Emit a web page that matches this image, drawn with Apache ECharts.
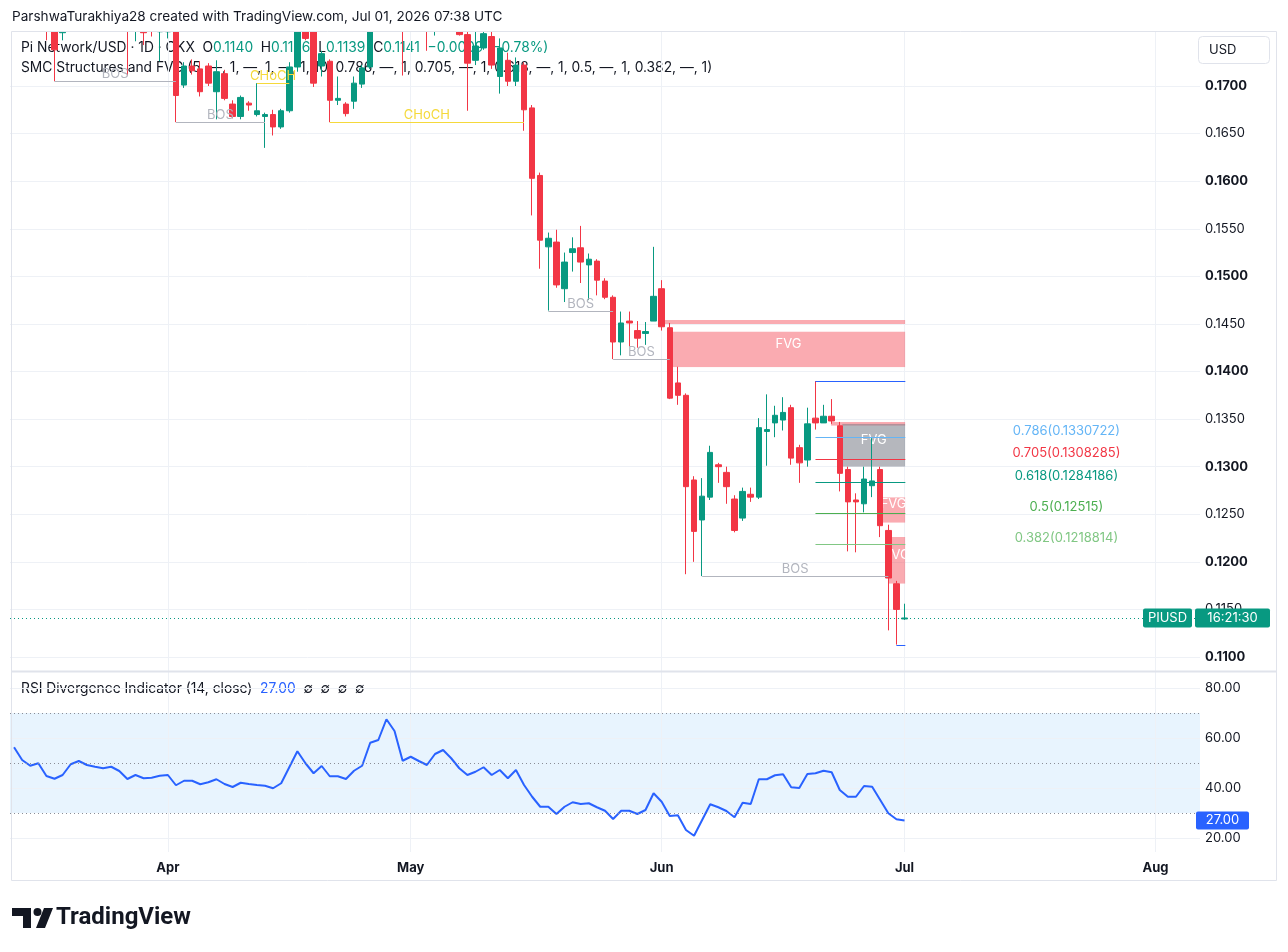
<!DOCTYPE html>
<html>
<head>
<meta charset="utf-8">
<title>Pi Network/USD 1D</title>
<script src="https://cdn.jsdelivr.net/npm/echarts@6.0.0/dist/echarts.min.js"></script>
<style>
  html, body { margin: 0; padding: 0; background: #ffffff; }
  #main { width: 1288px; height: 952px; }
</style>
</head>
<body>
<div id="main"></div>
<script>
// daily categories, Mar 13 -> Aug 6 2026 (chart runs past the last bar)
var dates = [];
(function () {
  var d = new Date(Date.UTC(2026, 2, 13));
  for (var k = 0; k < 147; k++) {
    dates.push(d.toISOString().slice(0, 10));
    d.setUTCDate(d.getUTCDate() + 1);
  }
})();

var monthStarts = ['2026-04-01', '2026-05-01', '2026-06-01', '2026-07-01', '2026-08-01'];
var monthNames = ['Apr', 'May', 'Jun', 'Jul', 'Aug'];

var priceTicks = [0.11, 0.115, 0.12, 0.125, 0.13, 0.135, 0.14, 0.145, 0.15, 0.155, 0.16, 0.165, 0.17];
var rsiTicks = [20, 40, 60, 80];
var rsiBands = [30, 50, 70];

// OHLC, Mar 13 -> Jul 1
var opens = [
  0.1855, 0.1840, 0.1815, 0.1800, 0.1805, 0.1768, 0.1756, 0.1766, 0.1800, 0.1810,
  0.1800, 0.1795, 0.1790, 0.1795, 0.1785, 0.1765, 0.1775, 0.1768, 0.1757, 0.1757,
  0.1772, 0.1701, 0.1721, 0.1718, 0.1721, 0.1694, 0.1713, 0.1681, 0.1668, 0.1682,
  0.1670, 0.1668, 0.1670, 0.1657, 0.1674, 0.1720, 0.1765, 0.1762, 0.1721, 0.1726,
  0.1685, 0.1681, 0.1684, 0.1702, 0.1720, 0.1772, 0.1795, 0.1840, 0.1815, 0.1762,
  0.1772, 0.1765, 0.1760, 0.1785, 0.1795, 0.1780, 0.1754, 0.1727, 0.1740, 0.1752,
  0.1710, 0.1727, 0.1705, 0.1722, 0.1677, 0.1606, 0.1531, 0.1536, 0.1487, 0.1525,
  0.1530, 0.1512, 0.1516, 0.1495, 0.1478, 0.1431, 0.1453, 0.1443, 0.1440, 0.1453,
  0.1487, 0.1446, 0.1388, 0.1375, 0.1286, 0.1244, 0.1268, 0.1302, 0.1294, 0.1266,
  0.1246, 0.1271, 0.1268, 0.1337, 0.1346, 0.1349, 0.1362, 0.1320, 0.1307, 0.1351,
  0.1346, 0.1353, 0.1343, 0.1297, 0.1265, 0.1261, 0.1280, 0.1297, 0.1233, 0.1177,
  0.1140
];
var highs = [
  0.1870, 0.1848, 0.1825, 0.1818, 0.1810, 0.1775, 0.1775, 0.1810, 0.1825, 0.1818,
  0.1812, 0.1805, 0.1808, 0.1800, 0.1792, 0.1788, 0.1782, 0.1775, 0.1778, 0.1780,
  0.1778, 0.1725, 0.1728, 0.1726, 0.1724, 0.1727, 0.1717, 0.1685, 0.1690, 0.1684,
  0.1703, 0.1672, 0.1675, 0.1676, 0.1725, 0.1775, 0.1775, 0.1768, 0.1737, 0.1728,
  0.1710, 0.1683, 0.1710, 0.1722, 0.1780, 0.1805, 0.1850, 0.1848, 0.1820, 0.1785,
  0.1780, 0.1778, 0.1790, 0.1805, 0.1800, 0.1788, 0.1760, 0.1758, 0.1762, 0.1758,
  0.1750, 0.1735, 0.1730, 0.1725, 0.1680, 0.1609, 0.1546, 0.1549, 0.1525, 0.1541,
  0.1553, 0.1524, 0.1518, 0.1498, 0.1480, 0.1463, 0.1463, 0.1453, 0.1452, 0.1531,
  0.1496, 0.1451, 0.1405, 0.1377, 0.1290, 0.1288, 0.1322, 0.1304, 0.1300, 0.1270,
  0.1278, 0.1278, 0.1351, 0.1376, 0.1364, 0.1373, 0.1365, 0.1323, 0.1362, 0.1390,
  0.1365, 0.1371, 0.1347, 0.1300, 0.1272, 0.1300, 0.1330, 0.1300, 0.1239, 0.1180,
  0.1156
];
var lows = [
  0.1830, 0.1808, 0.1792, 0.1790, 0.1748, 0.1705, 0.1748, 0.1760, 0.1790, 0.1788,
  0.1785, 0.1780, 0.1782, 0.1772, 0.1711, 0.1747, 0.1743, 0.1752, 0.1726, 0.1750,
  0.1662, 0.1698, 0.1712, 0.1689, 0.1700, 0.1665, 0.1685, 0.1666, 0.1665, 0.1674,
  0.1668, 0.1635, 0.1648, 0.1655, 0.1672, 0.1715, 0.1748, 0.1699, 0.1710, 0.1662,
  0.1680, 0.1668, 0.1676, 0.1698, 0.1718, 0.1765, 0.1790, 0.1805, 0.1711, 0.1758,
  0.1760, 0.1737, 0.1753, 0.1775, 0.1772, 0.1753, 0.1674, 0.1722, 0.1738, 0.1718,
  0.1692, 0.1700, 0.1700, 0.1653, 0.1564, 0.1508, 0.1464, 0.1488, 0.1473, 0.1505,
  0.1493, 0.1475, 0.1480, 0.1476, 0.1413, 0.1417, 0.1426, 0.1425, 0.1428, 0.1453,
  0.1443, 0.1371, 0.1365, 0.1187, 0.1200, 0.1185, 0.1265, 0.1283, 0.1261, 0.1231,
  0.1243, 0.1263, 0.1266, 0.1301, 0.1331, 0.1338, 0.1302, 0.1283, 0.1300, 0.1339,
  0.1346, 0.1345, 0.1274, 0.1211, 0.1210, 0.1252, 0.1268, 0.1226, 0.1128, 0.1113,
  0.1139
];
var closes = [
  0.1840, 0.1815, 0.1800, 0.1805, 0.1768, 0.1738, 0.1766, 0.1800, 0.1810, 0.1800,
  0.1795, 0.1790, 0.1795, 0.1785, 0.1765, 0.1775, 0.1756, 0.1760, 0.1768, 0.1772,
  0.1690, 0.1721, 0.1716, 0.1694, 0.1703, 0.1715, 0.1687, 0.1668, 0.1688, 0.1680,
  0.1674, 0.1670, 0.1657, 0.1674, 0.1720, 0.1765, 0.1750, 0.1703, 0.1734, 0.1685,
  0.1687, 0.1671, 0.1703, 0.1719, 0.1772, 0.1795, 0.1840, 0.1815, 0.1762, 0.1772,
  0.1765, 0.1760, 0.1785, 0.1795, 0.1780, 0.1754, 0.1724, 0.1742, 0.1755, 0.1722,
  0.1740, 0.1705, 0.1722, 0.1675, 0.1603, 0.1538, 0.1540, 0.1491, 0.1515, 0.1529,
  0.1515, 0.1518, 0.1496, 0.1478, 0.1431, 0.1451, 0.1451, 0.1435, 0.1442, 0.1479,
  0.1447, 0.1372, 0.1375, 0.1279, 0.1232, 0.1269, 0.1315, 0.1300, 0.1279, 0.1233,
  0.1274, 0.1268, 0.1341, 0.1339, 0.1354, 0.1357, 0.1309, 0.1304, 0.1345, 0.1346,
  0.1353, 0.1348, 0.1293, 0.1263, 0.1263, 0.1287, 0.1285, 0.1238, 0.1183, 0.1150,
  0.1141
];

// RSI (14, close), Mar 13 -> Jul 1
var rsi = [
  56.3, 51.2, 48.9, 49.9, 44.8, 43.7, 45.2, 49.5, 50.8, 49.2,
  48.5, 47.9, 48.5, 46.8, 43.6, 45.2, 43.9, 44.1, 44.9, 45.2,
  41.1, 42.9, 42.9, 41.5, 42.3, 43.5, 41.6, 40.4, 42.1, 41.6,
  41.2, 40.9, 39.9, 41.9, 48.3, 54.7, 49.9, 45.9, 48.8, 44.7,
  44.7, 43.6, 46.9, 48.9, 58.1, 59.2, 67.5, 62.8, 50.9, 52.5,
  50.8, 49.2, 53.6, 55.2, 51.9, 47.9, 45.2, 46.5, 48.3, 45.2,
  47.2, 43.9, 47.2, 41.2, 36.5, 32.5, 32.5, 29.6, 32.5, 34.3,
  33.6, 33.9, 32.3, 30.9, 27.6, 30.9, 30.9, 29.6, 31.2, 37.9,
  34.5, 28.8, 29.1, 23.2, 20.9, 27.2, 33.5, 32.3, 30.8, 28.3,
  34.1, 33.6, 43.5, 43.5, 45.1, 45.5, 40.3, 40.0, 45.6, 45.9,
  46.9, 46.3, 39.2, 36.5, 36.5, 40.8, 40.5, 35.2, 29.9, 27.5,
  27.0
];

// SMC structure breaks (bar index from / to, level)
var structFrom = [5, 20, 30, 39, 66, 74, 85];
var structTo = [20, 31, 34, 63, 74, 81, 108];
var structPrice = [0.1705, 0.1662, 0.1703, 0.1662, 0.1464, 0.1413, 0.1185];
var structText = ['BOS', 'BOS', 'CHoCH', 'CHoCH', 'BOS', 'BOS', 'BOS'];

// fair value gaps (bar index from / to, top, bottom)
var fvgFrom = [80.2, 81.25, 100.9, 102.3, 107.2, 108];
var fvgTo = [110.1, 110.1, 110.1, 110.1, 110.1, 110.1];
var fvgTop = [0.1454, 0.1442, 0.1347, 0.1345, 0.1268, 0.1226];
var fvgBottom = [0.1450, 0.14046, 0.1343, 0.1300, 0.1241, 0.1177];
var fvgMitigated = [false, false, false, true, false, false];
var fvgLabel = ['', 'FVG', '', 'FVG', 'FVG', 'FVG'];

// fibonacci levels of the last swing
var fibLevel = ['1', '0.786', '0.705', '0.618', '0.5', '0.382', '0'];
var fibPrices = [0.1390, 0.1330722, 0.1308285, 0.1284186, 0.12515, 0.1218814, 0.1113];
var fibFrom = [99, 99, 99, 99, 99, 99, 109];
var fibTo = 110.1;
var fibShowLabel = [false, true, true, true, true, true, false];
var fibLabelAt = 130;

var symbolTag = 'PIUSD';
var countdown = '16:21:30';

var UP = '#089981', DOWN = '#f23645';
var FONT = 'Inter, "Noto Sans", sans-serif';
var TXT = '#131722';
var GRID = '#eef1f6';
var BOS_COLOR = '#b2b5be', CHOCH_COLOR = '#f5d93b';
var fibColors = ['#2962ff', '#64b5f6', '#f23645', '#089981', '#4caf50', '#81c784', '#2962ff'];

var candleData = opens.map(function (o, i) {
  return [o, closes[i], lows[i], highs[i]];
});
var lastClose = closes[closes.length - 1];
var lastRsi = rsi[rsi.length - 1];

function xAt(api, v) {
  var i = Math.floor(v);
  var a = api.coord([i, 0])[0];
  var b = api.coord([i + 1, 0])[0];
  return a + (v - i) * (b - a);
}
function crisp(y) { return Math.round(y) + 0.5; }

var chart = echarts.init(document.getElementById('main'));

var gridLineStyle = { color: GRID, width: 1, type: 'solid' };

var option = {
  animation: false,
  backgroundColor: '#ffffff',
  textStyle: { fontFamily: FONT },
  grid: [
    { left: 10, right: 88, top: 31, height: 640 },
    { left: 10, right: 88, top: 672, height: 180 }
  ],
  xAxis: [
    {
      type: 'category', gridIndex: 0, data: dates, boundaryGap: true,
      axisLine: { show: false }, axisTick: { show: false },
      axisLabel: { show: false }, splitLine: { show: false }
    },
    {
      type: 'category', gridIndex: 1, data: dates, boundaryGap: true,
      axisLine: { show: false }, axisTick: { show: false }, splitLine: { show: false },
      axisLabel: {
        interval: function (idx, val) { return monthStarts.indexOf(val) >= 0; },
        formatter: function (val) { return monthNames[monthStarts.indexOf(val)]; },
        color: TXT, fontSize: 13, fontWeight: 'bold', fontFamily: FONT, margin: 10
      }
    }
  ],
  yAxis: [
    {
      type: 'value', gridIndex: 0, position: 'right', min: 0.10853, max: 0.17578,
      axisLine: { show: false }, axisTick: { show: false }, splitLine: { show: false },
      axisLabel: {
        customValues: priceTicks,
        color: TXT, fontSize: 13, fontFamily: FONT, margin: 5,
        formatter: function (v) {
          var s = v.toFixed(4);
          return s.slice(-2) === '00' ? '{b|' + s + '}' : s;
        },
        rich: { b: { fontWeight: 'bold', fontSize: 13, color: TXT, fontFamily: FONT } }
      }
    },
    {
      type: 'value', gridIndex: 1, position: 'right', min: 14.4, max: 86.4,
      axisLine: { show: false }, axisTick: { show: false }, splitLine: { show: false },
      axisLabel: {
        customValues: rsiTicks,
        color: TXT, fontSize: 13, fontFamily: FONT, margin: 5,
        formatter: function (v) { return v.toFixed(2); }
      }
    }
  ],
  series: [
    {
      // grid lines of the price pane
      type: 'line', xAxisIndex: 0, yAxisIndex: 0, data: [], silent: true,
      markLine: {
        silent: true, z: 1, precision: 6, symbol: ['none', 'none'], label: { show: false },
        lineStyle: gridLineStyle,
        data: priceTicks.map(function (v) { return { yAxis: v }; })
          .concat(monthStarts.map(function (d) { return { xAxis: d }; }))
      }
    },
    {
      // grid lines of the RSI pane
      type: 'line', xAxisIndex: 1, yAxisIndex: 1, data: [], silent: true,
      markLine: {
        silent: true, z: 1, precision: 6, symbol: ['none', 'none'], label: { show: false },
        lineStyle: gridLineStyle,
        data: rsiTicks.map(function (v) { return { yAxis: v }; })
          .concat(monthStarts.map(function (d) { return { xAxis: d }; }))
      }
    },
    {
      // last price line
      type: 'line', xAxisIndex: 0, yAxisIndex: 0, data: [], silent: true, z: 5,
      markLine: {
        silent: true, z: 5, precision: 6, symbol: ['none', 'none'], label: { show: false },
        lineStyle: { color: UP, width: 1, type: [1, 3] },
        data: [{ yAxis: lastClose }]
      }
    },
    {
      // FVG boxes
      type: 'custom', xAxisIndex: 0, yAxisIndex: 0, z: 2, silent: true,
      data: fvgTop.map(function (t, k) { return [Math.floor(fvgFrom[k]), t]; }),
      renderItem: function (params, api) {
        var k = params.dataIndex;
        var x0 = xAt(api, fvgFrom[k]), x1 = xAt(api, fvgTo[k]);
        var y0 = api.coord([0, fvgTop[k]])[1], y1 = api.coord([0, fvgBottom[k]])[1];
        var r = { x: x0, y: y0, width: x1 - x0, height: y1 - y0 };
        var kids = [{
          type: 'rect', shape: r,
          style: { fill: fvgMitigated[k] ? 'rgba(120,123,134,0.55)' : 'rgba(242,54,69,0.42)' }
        }];
        if (fvgLabel[k]) {
          kids.push({
            type: 'text', x: (x0 + x1) / 2, y: (y0 + y1) / 2 + 1,
            style: { text: fvgLabel[k], fill: '#ffffff', font: '13px ' + FONT, align: 'center', verticalAlign: 'bottom' }
          });
        }
        return { type: 'group', children: kids, clipPath: { type: 'rect', shape: r } };
      }
    },
    {
      type: 'candlestick', xAxisIndex: 0, yAxisIndex: 0, z: 3,
      data: candleData, barWidth: 6, clip: true,
      itemStyle: { color: UP, color0: DOWN, borderColor: UP, borderColor0: DOWN, borderWidth: 1 }
    },
    {
      // BOS / CHoCH lines
      type: 'custom', xAxisIndex: 0, yAxisIndex: 0, z: 4, silent: true,
      data: structPrice.map(function (p, k) { return [structFrom[k], p]; }),
      renderItem: function (params, api) {
        var k = params.dataIndex;
        var x0 = xAt(api, structFrom[k]), x1 = xAt(api, structTo[k]);
        var y = crisp(api.coord([0, structPrice[k]])[1]);
        var col = structText[k] === 'BOS' ? BOS_COLOR : CHOCH_COLOR;
        return {
          type: 'group', children: [
            { type: 'line', shape: { x1: x0, y1: y, x2: x1, y2: y }, style: { stroke: col, lineWidth: 1 } },
            {
              type: 'text', x: (x0 + x1) / 2, y: y - 1,
              style: { text: structText[k], fill: col, font: '13px ' + FONT, align: 'center', verticalAlign: 'bottom' }
            }
          ]
        };
      }
    },
    {
      // fib retracement of the last swing
      type: 'custom', xAxisIndex: 0, yAxisIndex: 0, z: 4, silent: true,
      data: fibPrices.map(function (p, k) { return [fibFrom[k], p]; }),
      renderItem: function (params, api) {
        var k = params.dataIndex;
        var x0 = xAt(api, fibFrom[k]), x1 = xAt(api, fibTo);
        var y = crisp(api.coord([0, fibPrices[k]])[1]);
        var kids = [{ type: 'line', shape: { x1: x0, y1: y, x2: x1, y2: y }, style: { stroke: fibColors[k], lineWidth: 1 } }];
        if (fibShowLabel[k]) {
          kids.push({
            type: 'text', x: xAt(api, fibLabelAt), y: y,
            style: {
              text: fibLevel[k] + '(' + String(fibPrices[k]) + ')',
              fill: fibColors[k], font: '13px ' + FONT, align: 'center', verticalAlign: 'bottom'
            }
          });
        }
        return { type: 'group', children: kids };
      }
    },
    {
      type: 'line', xAxisIndex: 1, yAxisIndex: 1, z: 3, data: rsi,
      showSymbol: false, symbol: 'none',
      lineStyle: { color: '#2962ff', width: 2 },
      markArea: {
        silent: true,
        itemStyle: { color: 'rgba(33,150,243,0.1)' },
        data: [[{ yAxis: rsiBands[0] }, { yAxis: rsiBands[2] }]]
      },
      markLine: {
        silent: true, precision: 6, symbol: ['none', 'none'], label: { show: false },
        lineStyle: { color: '#8a8d96', width: 1, type: [1, 3] },
        data: rsiBands.map(function (v) { return { yAxis: v }; })
      }
    }
  ]
};

chart.setOption(option);

var yLast = chart.convertToPixel({ yAxisIndex: 0 }, lastClose);
var yRsi = chart.convertToPixel({ yAxisIndex: 1 }, lastRsi);

function txt(x, y, text, font, fill, extra, z) {
  var st = { text: text, font: font, fill: fill, align: 'left', verticalAlign: 'middle' };
  if (extra) { for (var key in extra) st[key] = extra[key]; }
  return { type: 'text', x: x, y: y, z: z || 0, style: st };
}

var F13 = '13px ' + FONT;
var F14 = '13.8px ' + FONT;
var graphics = [
  // white band above the price pane hides candles that run off the top
  { type: 'rect', z: 50, shape: { x: 0, y: 0, width: 1288, height: 31 }, style: { fill: '#ffffff' } },
  txt(12, 17, 'ParshwaTurakhiya28 created with TradingView.com, Jul 01, 2026 07:38 UTC', '13.6px ' + FONT, TXT, null, 51),
  txt(21, 48,
    'Pi Network/USD · 1D · OKX  O{g|0.1140}  H{g|0.1156}  L{g|0.1139}  C{g|0.1141}  {g|−0.0009 (−0.78%)}',
    F14, TXT, { rich: { g: { fill: UP, font: F14 } } }),
  txt(21, 68, 'SMC Structures and FVG (5, —, 1, —, 1, —, 1, 10, 0.786, —, 1, 0.705, —, 1, 0.618, —, 1, 0.5, —, 1, 0.382, —, 1)', F14, TXT),
  txt(21, 689, 'RSI Divergence Indicator (14, close)  {b|' + lastRsi.toFixed(2) + '}  ∅  ∅  ∅  ∅',
    F14, TXT, { rich: { b: { fill: '#2962ff', font: F14 } } }),
  // frame and pane separator
  { type: 'rect', z: 60, shape: { x: 11.5, y: 31.5, width: 1265, height: 849 }, style: { fill: 'none', stroke: '#e0e3eb', lineWidth: 1 } },
  { type: 'line', z: 60, shape: { x1: 11, y1: 671.5, x2: 1277, y2: 671.5 }, style: { stroke: '#e0e3eb', lineWidth: 2 } },
  // currency box
  { type: 'rect', z: 60, shape: { x: 1198.5, y: 36.5, width: 71, height: 27, r: 4 }, style: { fill: '#ffffff', stroke: '#e0e3eb', lineWidth: 1 } },
  { type: 'text', z: 61, x: 1209, y: 50, style: { text: 'USD', font: F13, fill: TXT, verticalAlign: 'middle' } },
  // last price tag
  { type: 'rect', z: 60, shape: { x: 1143, y: yLast - 9.5, width: 49, height: 19, r: 2 }, style: { fill: UP } },
  { type: 'text', z: 61, x: 1167.5, y: yLast, style: { text: symbolTag, font: F13, fill: '#ffffff', align: 'center', verticalAlign: 'middle' } },
  { type: 'rect', z: 60, shape: { x: 1195, y: yLast - 9.5, width: 75, height: 19, r: 2 }, style: { fill: UP } },
  { type: 'text', z: 61, x: 1232.5, y: yLast, style: { text: countdown, font: F13, fill: '#ffffff', align: 'center', verticalAlign: 'middle' } },
  // RSI tag
  { type: 'rect', z: 60, shape: { x: 1196, y: yRsi - 9, width: 53, height: 18, r: 2 }, style: { fill: '#2962ff' } },
  { type: 'text', z: 61, x: 1222.5, y: yRsi, style: { text: lastRsi.toFixed(2), font: F13, fill: '#ffffff', align: 'center', verticalAlign: 'middle' } },
  // TradingView mark
  { type: 'polygon', z: 60, shape: { points: [[12, 908], [31, 908], [31, 928], [23, 928], [23, 916], [12, 916]] }, style: { fill: TXT } },
  { type: 'circle', z: 60, shape: { cx: 37.5, cy: 912, r: 4 }, style: { fill: TXT } },
  { type: 'polygon', z: 60, shape: { points: [[44, 908], [53, 908], [45, 928], [36, 928]] }, style: { fill: TXT } },
  { type: 'text', z: 60, x: 56, y: 918, style: { text: 'TradingView', font: 'bold 24px Roboto, sans-serif', fill: TXT, verticalAlign: 'middle' } }
];

chart.setOption({ graphic: graphics });
</script>
</body>
</html>
